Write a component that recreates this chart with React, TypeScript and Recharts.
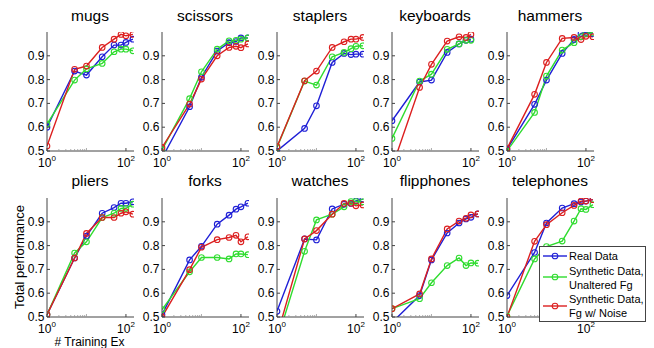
import React from 'react';
import { LineChart, Line, XAxis, YAxis } from 'recharts';

// x positions (# training examples), shared by every panel
const trainingEx = [1, 5, 10, 25, 50, 75, 100, 150];

const categories = [
  'mugs', 'scissors', 'staplers', 'keyboards', 'hammers',
  'pliers', 'forks', 'watches', 'flipphones', 'telephones',
];

const yTicks = [0.5, 0.6, 0.7, 0.8, 0.9];
const xTicks = [1, 2, 3, 4, 5, 6, 7, 8, 9, 10, 100];
const xTickLabels: { [k: number]: string } = { 1: '0', 100: '2' };

const seriesNames = ['Real Data', 'Synthetic Data, Unaltered Fg', 'Synthetic Data, Fg w/ Noise'];
const seriesColors = ['#1f1fd6', '#2fdc2f', '#dc1f1f'];

// values per panel: real / unaltered fg / fg with noise
const mugsReal = [0.6, 0.836, 0.819, 0.896, 0.945, 0.945, 0.956, 0.97];
const mugsUnaltered = [0.613, 0.798, 0.845, 0.868, 0.917, 0.928, 0.928, 0.921];
const mugsNoise = [0.521, 0.843, 0.857, 0.935, 0.97, 0.99, 0.984, 0.99];

const scissorsReal = [0.47, 0.686, 0.81, 0.92, 0.955, 0.96, 0.975, 0.975];
const scissorsUnaltered = [0.505, 0.72, 0.833, 0.928, 0.963, 0.965, 0.97, 0.975];
const scissorsNoise = [0.515, 0.697, 0.802, 0.9, 0.935, 0.94, 0.934, 0.95];

const staplersReal = [0.5, 0.595, 0.69, 0.872, 0.91, 0.905, 0.907, 0.907];
const staplersUnaltered = [0.515, 0.794, 0.777, 0.896, 0.914, 0.93, 0.94, 0.942];
const staplersNoise = [0.518, 0.795, 0.836, 0.935, 0.959, 0.97, 0.97, 0.977];

const keyboardsReal = [0.627, 0.79, 0.798, 0.914, 0.95, 0.965, 0.97, null];
const keyboardsUnaltered = [0.553, 0.794, 0.823, 0.927, 0.95, 0.965, 0.965, null];
const keyboardsNoise = [0.43, 0.767, 0.864, 0.962, 0.98, 0.977, 0.99, null];

const hammersReal = [0.507, 0.696, 0.798, 0.91, 0.969, 0.994, 0.998, 0.994];
const hammersUnaltered = [0.5, 0.662, 0.815, 0.924, 0.955, 0.98, 0.994, 0.998];
const hammersNoise = [0.51, 0.738, 0.872, 0.973, 0.977, 0.968, 0.982, 0.98];

const pliersReal = [0.51, 0.748, 0.84, 0.936, 0.96, 0.978, 0.978, 0.984];
const pliersUnaltered = [0.51, 0.769, 0.816, 0.918, 0.936, 0.956, 0.957, 0.974];
const pliersNoise = [0.51, 0.748, 0.851, 0.918, 0.918, 0.936, 0.942, 0.932];

const forksReal = [0.51, 0.74, 0.797, 0.89, 0.928, 0.953, 0.963, 0.978];
const forksUnaltered = [0.531, 0.69, 0.75, 0.75, 0.744, 0.765, 0.765, 0.762];
const forksNoise = [0.5, 0.699, 0.793, 0.825, 0.834, 0.843, 0.816, 0.837];

const watchesReal = [0.524, 0.828, 0.824, 0.954, 0.974, 0.977, 0.988, 0.995];
const watchesUnaltered = [0.4, 0.776, 0.908, 0.932, 0.963, 0.985, 0.985, 0.984];
const watchesNoise = [0.42, 0.828, 0.863, 0.932, 0.977, 0.978, 0.967, 0.971];

const flipphonesReal = [0.477, 0.59, 0.74, 0.853, 0.895, 0.912, 0.919, 0.933];
const flipphonesUnaltered = [0.535, 0.577, 0.644, 0.716, 0.748, 0.716, 0.727, 0.726];
const flipphonesNoise = [0.535, 0.597, 0.744, 0.87, 0.903, 0.915, 0.929, 0.933];

const telephonesReal = [0.59, 0.771, 0.895, 0.958, 0.976, 0.983, 0.987, 0.993];
const telephonesUnaltered = [0.504, 0.744, 0.796, 0.819, 0.903, 0.955, 0.952, 0.972];
const telephonesNoise = [0.5, 0.818, 0.888, 0.938, 0.969, 0.987, 0.987, 0.993];

const panelSeries = [
  [mugsReal, mugsUnaltered, mugsNoise],
  [scissorsReal, scissorsUnaltered, scissorsNoise],
  [staplersReal, staplersUnaltered, staplersNoise],
  [keyboardsReal, keyboardsUnaltered, keyboardsNoise],
  [hammersReal, hammersUnaltered, hammersNoise],
  [pliersReal, pliersUnaltered, pliersNoise],
  [forksReal, forksUnaltered, forksNoise],
  [watchesReal, watchesUnaltered, watchesNoise],
  [flipphonesReal, flipphonesUnaltered, flipphonesNoise],
  [telephonesReal, telephonesUnaltered, telephonesNoise],
];

const FONT = '"Liberation Sans", Arial, sans-serif';
const AXIS = '#444';
const PLOT_W = 87;
const PLOT_H = 119;
const Y_AXIS_W = 32;
const plotLefts = [46.5, 161.5, 276.5, 391.5, 506.5];
const plotTops = [32, 198];

const XTick = (props: any) => {
  const { x, y, payload } = props;
  const v = payload.value;
  if (xTickLabels[v]) {
    return (
      <g>
        <line x1={x} x2={x} y1={y} y2={y - 3} stroke={AXIS} />
        <text x={x} y={y + 16} textAnchor="middle" fontSize={12} fontFamily={FONT} fill="#000">
          10<tspan dy={-6} fontSize={8}>{xTickLabels[v]}</tspan>
        </text>
      </g>
    );
  }
  return <line x1={x} x2={x} y1={y} y2={y - (v === 10 ? 3 : 2)} stroke="#999" strokeWidth={0.8} />;
};

const YTick = (props: any) => {
  const { x, y, payload } = props;
  return (
    <g>
      <line x1={x} x2={x + 3} y1={y} y2={y} stroke={AXIS} />
      <text x={x - 2.5} y={y + 4} textAnchor="end" fontSize={12} fontFamily={FONT} fill="#000">
        {payload.value.toFixed(1)}
      </text>
    </g>
  );
};

const RightTick = (props: any) => {
  const { x, y } = props;
  return <line x1={x} x2={x - 3} y1={y} y2={y} stroke={AXIS} />;
};

const Panel = ({ index }: { index: number }) => {
  const [real, unaltered, noise] = panelSeries[index];
  const data = trainingEx.map((x, i) => ({ x, real: real[i], unaltered: unaltered[i], noise: noise[i] }));
  const left = plotLefts[index % 5];
  const top = plotTops[Math.floor(index / 5)];
  const keys = ['real', 'unaltered', 'noise'];
  return (
    <div style={{ position: 'absolute', left: left - Y_AXIS_W, top: top - 5 }}>
      <LineChart width={Y_AXIS_W + PLOT_W + 5} height={PLOT_H + 30} data={data} margin={{ top: 5, right: 5, bottom: 0, left: 0 }}>
        <XAxis dataKey="x" type="number" scale="log" domain={[1, 160]} allowDataOverflow ticks={xTicks} interval={0}
          tick={XTick} tickLine={false} tickSize={0} tickMargin={0} height={25} stroke={AXIS} />
        <XAxis xAxisId="top" orientation="top" dataKey="x" type="number" scale="log" domain={[1, 160]} allowDataOverflow
          tick={false} tickLine={false} height={0} stroke={AXIS} />
        <YAxis type="number" domain={[0.5, 1]} allowDataOverflow ticks={yTicks} interval={0}
          tick={YTick} tickLine={false} tickSize={0} tickMargin={0} width={Y_AXIS_W} stroke={AXIS} />
        <YAxis yAxisId="right" orientation="right" type="number" domain={[0.5, 1]} allowDataOverflow ticks={yTicks} interval={0}
          tick={RightTick} tickLine={false} tickSize={0} tickMargin={0} width={0} stroke={AXIS} />
        {keys.map((k, i) => (
          <Line key={k} dataKey={k} stroke={seriesColors[i]} strokeWidth={1.4}
            dot={{ r: 2.8, fill: 'none', stroke: seriesColors[i], strokeWidth: 1.1 }}
            activeDot={false} isAnimationActive={false} />
        ))}
      </LineChart>
    </div>
  );
};

const legendRows = [
  { color: seriesColors[0], lineY: 256, lines: [{ t: 'Real Data', y: 260 }] },
  { color: seriesColors[1], lineY: 277, lines: [{ t: 'Synthetic Data,', y: 275 }, { t: 'Unaltered Fg', y: 289 }] },
  { color: seriesColors[2], lineY: 306, lines: [{ t: 'Synthetic Data,', y: 303 }, { t: 'Fg w/ Noise', y: 317 }] },
];

export default function App() {
  return (
    <div style={{ position: 'absolute', left: 0, top: 0, width: 654, height: 348, background: '#fff', overflow: 'hidden' }}>
      {categories.map((c, i) => <Panel key={c} index={i} />)}
      <svg width={654} height={348} style={{ position: 'absolute', left: 0, top: 0, pointerEvents: 'none' }}>
        {categories.map((c, i) => (
          <text key={c} x={plotLefts[i % 5] + PLOT_W / 2} y={i < 5 ? 21 : 186} textAnchor="middle"
            fontSize={15.5} fontFamily={FONT} fill="#000">{c}</text>
        ))}
        <text x={23.5} y={257} transform="rotate(-90 23.5 257)" textAnchor="middle" fontSize={13} fontFamily={FONT} fill="#000">
          Total performance
        </text>
        <text x={89.5} y={346.2} textAnchor="middle" fontSize={12} fontFamily={FONT} fill="#000"># Training Ex</text>
        <rect x={539.5} y={246.5} width={106} height={75} fill="#fff" stroke={AXIS} />
        {legendRows.map((r, i) => (
          <g key={seriesNames[i]}>
            <line x1={543} x2={567} y1={r.lineY} y2={r.lineY} stroke={r.color} strokeWidth={1.4} />
            <circle cx={555} cy={r.lineY} r={2.8} fill="none" stroke={r.color} strokeWidth={1.1} />
            {r.lines.map((l) => (
              <text key={l.t + l.y} x={569} y={l.y} fontSize={11} fontFamily={FONT} fill="#000">{l.t}</text>
            ))}
          </g>
        ))}
      </svg>
    </div>
  );
}
